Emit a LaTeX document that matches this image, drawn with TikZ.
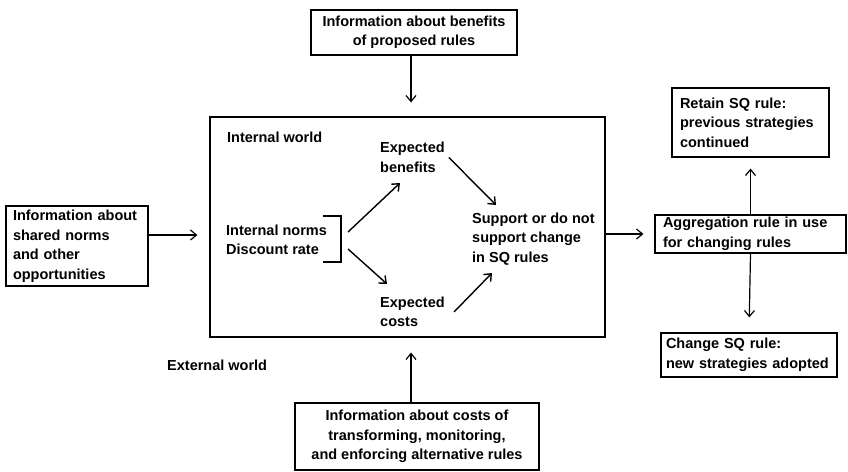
\documentclass[tikz,border=0pt]{standalone}
\usepackage{fontspec}
\setmainfont{Liberation Sans}
\usetikzlibrary{arrows.meta}
\usetikzlibrary{positioning}
\usetikzlibrary{calc}

\tikzset{
  txt/.style={font=\fontsize{14.5}{19.5}\selectfont\bfseries},
  infobox/.style={txt, draw, line width=1.2pt, inner ysep=0pt, inner xsep=8pt},
  lbl/.style={txt, inner sep=0pt, align=left, anchor=west},
}

\begin{document}
\begin{tikzpicture}[x=1pt, y=-1pt, >={Straight Barb[length=6pt,width=10pt]}]
                \useasboundingbox (0,0) rectangle (848,471);
                % boxes outside
                \node[infobox, align=center, minimum width=206pt, minimum height=45pt] (benefitsinfo) at (414,32.5) {Information about benefits\\of proposed rules};
                \node[infobox, align=left, inner xsep=7pt, text width=128pt, minimum height=80pt] (normsinfo) at (77,246) {Information about\\shared norms\\and other\\opportunities};
                \node[infobox, align=center, minimum width=244pt, minimum height=67pt] (costsinfo) at (417,436.5) {Information about costs of\\transforming, monitoring,\\and enforcing alternative rules};
                \node[infobox, align=left, text width=141pt, minimum height=69pt] (retain) at (750.5,122.5) {Retain SQ rule:\\previous strategies\\continued};
                \node[infobox, align=left, text width=175pt, minimum height=38pt] (aggregation) at (750.5,234) {Aggregation rule in use\\for changing rules};
                \node[infobox, align=left, inner xsep=5pt, text width=166pt, minimum height=44pt] (change) at (749,355) {Change SQ rule:\\new strategies adopted};
                % the individual
                \node[draw, line width=1.2pt, minimum width=395pt, minimum height=220pt] (world) at (407.5,227) {};
                \node[lbl] (internal) at (227,137) {Internal world};
                \node[lbl] (external) at (167,365) {External world};
                \node[lbl] (norms) at (226,240) {Internal norms\\Discount rate};
                \node[lbl] (benefits) at (380,157.5) {Expected\\benefits};
                \node[lbl] (costs) at (380,312) {Expected\\costs};
                \node[lbl] (support) at (472,239) {Support or do not\\support change\\in SQ rules};
                \draw[line width=1.6pt] (323,216) -- (341,216) -- (341,262) -- (323,262);
                \coordinate (normsup) at (348,232);
                \coordinate (normsdown) at (348,249);
                \coordinate (benefitstip) at (400,183);
                \coordinate (coststip) at (387,284);
                \coordinate (supporttop) at (496,205);
                \coordinate (supportbottom) at (492,273);
                \coordinate (costsright) at (454,312);
                \path[->, line width=1.4pt]
                    (normsup) edge (benefitstip)
                    (normsdown) edge (coststip)
                    ([xshift=4pt]benefits.east) edge (supporttop)
                    (costsright) edge (supportbottom);
                % flows
                \path[->, line width=1.2pt]
                    ([xshift=-3pt]benefitsinfo.south) edge[shorten >=14pt] ([xshift=-3pt]benefitsinfo.south |- world.north)
                    ([yshift=11pt]normsinfo.east) edge[shorten >=12pt] ([yshift=11pt]normsinfo.east -| world.west)
                    ([xshift=-6pt]costsinfo.north) edge[shorten >=15pt] ([xshift=-6pt]costsinfo.north |- world.south)
                    (world.east |- aggregation.west) edge[shorten >=11pt] (aggregation.west)
                    (aggregation.north) edge[shorten >=11pt] (retain.south)
                    (aggregation.south) edge[shorten >=15pt] (change.north);
            \end{tikzpicture}
\end{document}
